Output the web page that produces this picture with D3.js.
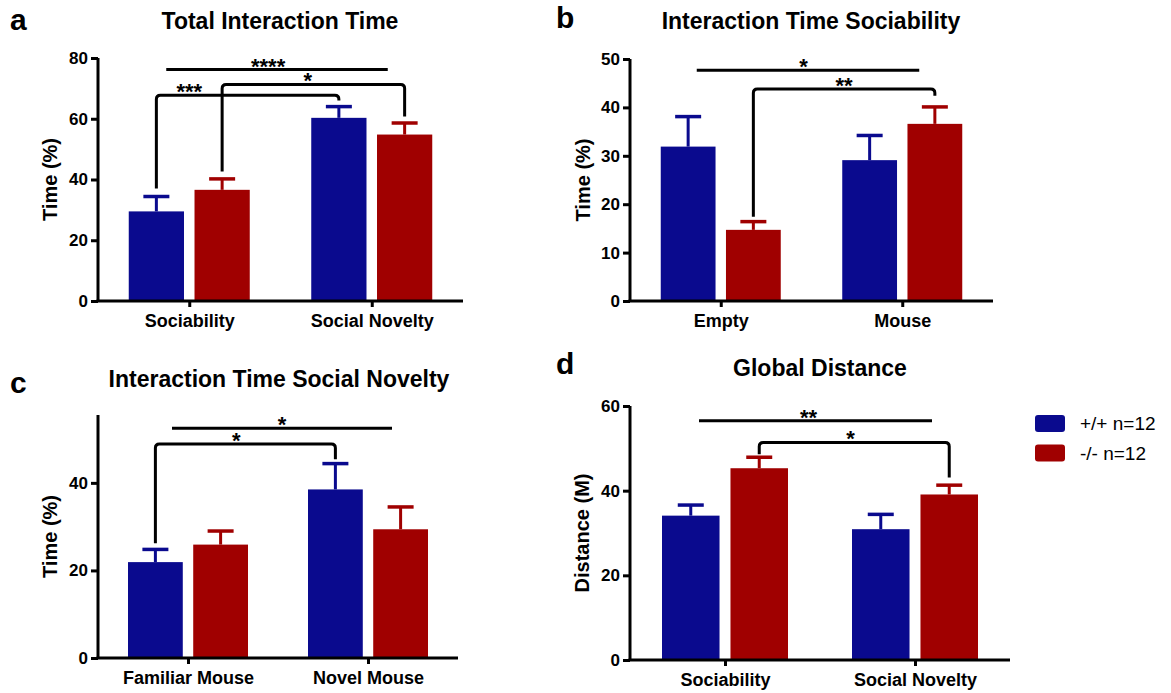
<!DOCTYPE html>
<html>
<head>
<meta charset="utf-8">
<script src="https://cdn.jsdelivr.net/npm/d3@7"></script>
<style>
	body { margin: 0; background: #fff; }
	svg { font-family: "Liberation Sans", Arial, sans-serif; }
	.axis path, .axis line { stroke: #000; stroke-width: 3; }
	.axis text { font-weight: bold; fill: #000; }
	.title { font-weight: bold; font-size: 23px; }
	.letter { font-weight: bold; font-size: 30px; }
	.ylabel { font-weight: bold; font-size: 20px; }
	.sig { fill: none; stroke: #000; stroke-width: 3; }
	.star { font-weight: bold; font-size: 22px; }
	.legend text { font-size: 19px; }
</style>
</head>
<body>
<div class="container"></div>
<script>
const WIDTH = 1171;
const HEIGHT = 693;

const GROUPS = ["+/+ n=12", "-/- n=12"];
const COLORS = ["#0a0a8e", "#a00000"];

// a - Total Interaction Time
const catsA = ["Sociability", "Social Novelty"];
const wtA = [29.5, 60.3];
const wtSemA = [4.9, 3.7];
const koA = [36.6, 54.8];
const koSemA = [3.6, 3.8];
const ticksA = [0, 20, 40, 60, 80];

// b - Interaction Time Sociability
const catsB = ["Empty", "Mouse"];
const wtB = [31.9, 29.1];
const wtSemB = [6.2, 5.1];
const koB = [14.7, 36.6];
const koSemB = [1.7, 3.5];
const ticksB = [0, 10, 20, 30, 40, 50];

// c - Interaction Time Social Novelty
const catsC = ["Familiar Mouse", "Novel Mouse"];
const wtC = [21.9, 38.5];
const wtSemC = [2.9, 5.9];
const koC = [25.9, 29.4];
const koSemC = [3.1, 5.1];
const ticksC = [0, 20, 40];

// d - Global Distance
const catsD = ["Sociability", "Social Novelty"];
const wtD = [34.1, 30.9];
const wtSemD = [2.5, 3.5];
const koD = [45.3, 39.1];
const koSemD = [2.6, 2.2];
const ticksD = [0, 20, 40, 60];

// significance marks: plain lines between categories, brackets between bars
const sigA = [
	{label: "****", from: [0], to: [1], y: 76.2, t: 0.46},
	{label: "*", from: [0, 1], to: [1, 1], y: 71.3, feet: [42.6, 60.7], t: 0.47},
	{label: "***", from: [0, 0], to: [1, 0], y: 67.7, feet: [37.0, 66.0], t: 0.18}
];
const sigB = [
	{label: "*", from: [0], to: [1], y: 47.7, t: 0.48},
	{label: "**", from: [0, 1], to: [1, 1], y: 43.8, feet: [17.4, 42.4], t: 0.5}
];
const sigC = [
	{label: "*", from: [0], to: [1], y: 52.5, t: 0.5},
	{label: "*", from: [0, 0], to: [1, 0], y: 48.9, feet: [26.2, 45.4], t: 0.45}
];
const sigD = [
	{label: "**", from: [0], to: [1], y: 56.5, t: 0.47},
	{label: "*", from: [0, 1], to: [1, 1], y: 51.4, feet: [48.6, 43.1], t: 0.48}
];

var translate = function(x, y){
	return "translate(" + x + "," + y + ")";
};

var svg = d3.select('.container').append('svg')
	.attr('width', WIDTH)
	.attr('height', HEIGHT);

var drawPanel = function(p){
	var g = svg.append('g');

	var xScale = d3.scalePoint()
		.domain(p.cats)
		.range(p.xRange)
		.padding(0.5);

	var inner = d3.scaleBand()
		.domain([0, 1])
		.range([-p.pair / 2, p.pair / 2])
		.paddingInner(0.16);

	var yScale = d3.scaleLinear()
		.domain(p.yDomain)
		.range(p.yRange);

	var barX = function(ci, gi){
		return xScale(p.cats[ci]) + inner(gi) + inner.bandwidth() / 2;
	};

	// bars and error bars
	var rows = [];
	p.cats.forEach(function(c, ci){
		[0, 1].forEach(function(gi){
			rows.push({ci: ci, gi: gi, v: p.means[gi][ci], e: p.sems[gi][ci]});
		});
	});

	g.selectAll('rect.bar').data(rows)
		.enter().append('rect')
		.attr('class', 'bar')
		.attr('x', function(d){ return xScale(p.cats[d.ci]) + inner(d.gi); })
		.attr('width', inner.bandwidth())
		.attr('y', function(d){ return yScale(d.v); })
		.attr('height', function(d){ return yScale(0) - yScale(d.v); })
		.attr('fill', function(d){ return COLORS[d.gi]; });

	g.selectAll('line.err').data(rows)
		.enter().append('line')
		.attr('x1', function(d){ return barX(d.ci, d.gi); })
		.attr('x2', function(d){ return barX(d.ci, d.gi); })
		.attr('y1', function(d){ return yScale(d.v); })
		.attr('y2', function(d){ return yScale(d.v + d.e); })
		.attr('stroke', function(d){ return COLORS[d.gi]; })
		.attr('stroke-width', 3);

	g.selectAll('line.cap').data(rows)
		.enter().append('line')
		.attr('x1', function(d){ return barX(d.ci, d.gi) - 13; })
		.attr('x2', function(d){ return barX(d.ci, d.gi) + 13; })
		.attr('y1', function(d){ return yScale(d.v + d.e); })
		.attr('y2', function(d){ return yScale(d.v + d.e); })
		.attr('stroke', function(d){ return COLORS[d.gi]; })
		.attr('stroke-width', 3.5);

	// axes
	var xAxis = d3.axisBottom(xScale).tickSize(6).tickSizeOuter(0).tickPadding(7);
	var yAxis = d3.axisLeft(yScale).tickValues(p.ticks).tickSize(7).tickSizeOuter(0).tickPadding(3);

	var xg = g.append('g')
		.attr('class', 'axis')
		.attr('transform', translate(0, yScale(0)))
		.call(xAxis);
	xg.selectAll('text').style('font-size', '18px');

	var yg = g.append('g')
		.attr('class', 'axis')
		.attr('transform', translate(p.xRange[0], 0))
		.call(yAxis);
	yg.selectAll('text').style('font-size', '17px');
	yg.select('.domain').attr('d', 'M0,' + yScale(0) + 'V' + p.yRange[1]);
	xg.select('.domain').attr('d', 'M' + (p.xRange[0] - 1.5) + ',0H' + p.xRange[1]);

	// significance
	p.sig.forEach(function(s){
		var x0, x1, d;
		var ly = yScale(s.y);
		if (s.feet) {
			x0 = barX(s.from[0], s.from[1]);
			x1 = barX(s.to[0], s.to[1]);
			var r = 4;
			d = 'M' + x0 + ',' + yScale(s.feet[0]) +
				'V' + (ly + r) + 'Q' + x0 + ',' + ly + ' ' + (x0 + r) + ',' + ly +
				'H' + (x1 - r) + 'Q' + x1 + ',' + ly + ' ' + x1 + ',' + (ly + r) +
				'V' + yScale(s.feet[1]);
		} else {
			x0 = xScale(p.cats[s.from[0]]) - p.lineIn[0];
			x1 = xScale(p.cats[s.to[0]]) + p.lineIn[1];
			d = 'M' + x0 + ',' + ly + 'H' + x1;
		}
		g.append('path').attr('class', 'sig').attr('d', d);
		g.append('text')
			.attr('class', 'star')
			.attr('x', x0 + (x1 - x0) * s.t)
			.attr('y', ly + 4)
			.attr('text-anchor', 'middle')
			.text(s.label);
	});

	// titles
	g.append('text')
		.attr('class', 'title')
		.attr('x', p.titleX)
		.attr('y', p.titleY)
		.attr('text-anchor', 'middle')
		.text(p.title);

	g.append('text')
		.attr('class', 'letter')
		.attr('x', p.letterX)
		.attr('y', p.letterY)
		.text(p.letter);

	g.append('text')
		.attr('class', 'ylabel')
		.attr('transform', translate(p.yLabelX, (p.yRange[0] + p.yRange[1]) / 2) + ' rotate(-90)')
		.attr('dy', '0.35em')
		.attr('text-anchor', 'middle')
		.text(p.yLabel);
};

drawPanel({
	cats: catsA, means: [wtA, koA], sems: [wtSemA, koSemA], ticks: ticksA, sig: sigA,
	xRange: [98, 463], yDomain: [0, 80], yRange: [301, 58], pair: 121, lineIn: [23, 16],
	title: "Total Interaction Time", titleX: 280, titleY: 29,
	letter: "a", letterX: 10, letterY: 30, yLabel: "Time (%)", yLabelX: 50
});

drawPanel({
	cats: catsB, means: [wtB, koB], sems: [wtSemB, koSemB], ticks: ticksB, sig: sigB,
	xRange: [630, 993], yDomain: [0, 50], yRange: [301, 59], pair: 120, lineIn: [24, 17],
	title: "Interaction Time Sociability", titleX: 811, titleY: 29,
	letter: "b", letterX: 556, letterY: 28, yLabel: "Time (%)", yLabelX: 583
});

drawPanel({
	cats: catsC, means: [wtC, koC], sems: [wtSemC, koSemC], ticks: ticksC, sig: sigC,
	xRange: [98, 458], yDomain: [0, 55.5], yRange: [658, 415], pair: 120, lineIn: [16, 24],
	title: "Interaction Time Social Novelty", titleX: 279, titleY: 387,
	letter: "c", letterX: 10, letterY: 393, yLabel: "Time (%)", yLabelX: 50
});

drawPanel({
	cats: catsD, means: [wtD, koD], sems: [wtSemD, koSemD], ticks: ticksD, sig: sigD,
	xRange: [630, 1010], yDomain: [0, 60], yRange: [660, 406], pair: 126, lineIn: [26, 17],
	title: "Global Distance", titleX: 820, titleY: 376,
	letter: "d", letterX: 556, letterY: 374, yLabel: "Distance (M)", yLabelX: 582
});

// legend
var legend = svg.append('g')
	.attr('class', 'legend')
	.attr('transform', translate(1035, 415));

legend.selectAll('rect').data(GROUPS)
	.enter().append('rect')
	.attr('x', 0)
	.attr('y', function(d, i){ return i * 29.5; })
	.attr('width', 30)
	.attr('height', 17)
	.attr('rx', 3)
	.attr('fill', function(d, i){ return COLORS[i]; });

legend.selectAll('text').data(GROUPS)
	.enter().append('text')
	.attr('x', 45)
	.attr('y', function(d, i){ return 15 + i * 30; })
	.text(function(d){ return d; });
</script>
</body>
</html>
